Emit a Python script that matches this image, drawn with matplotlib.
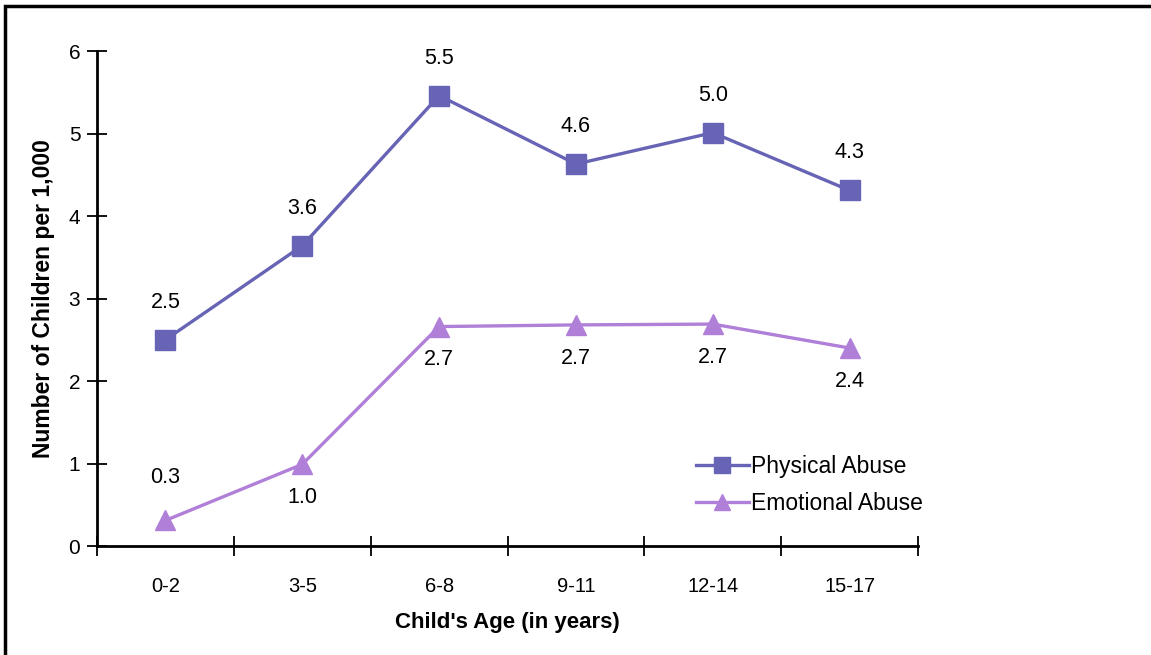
import numpy as np
import matplotlib.pyplot as plt
from matplotlib.patches import Rectangle
from matplotlib.ticker import FixedLocator

plt.rcParams['font.family'] = ['Liberation Sans', 'DejaVu Sans']

# Data
ages = ['0-2', '3-5', '6-8', '9-11', '12-14', '15-17']
physical = [2.5, 3.64, 5.46, 4.63, 5.01, 4.31]
emotional = [0.31, 0.99, 2.66, 2.68, 2.69, 2.40]
physical_lbl = ['2.5', '3.6', '5.5', '4.6', '5.0', '4.3']
emotional_lbl = ['0.3', '1.0', '2.7', '2.7', '2.7', '2.4']

PHYS_COL = '#6763b5'
EMO_COL = '#b07fd8'

fig = plt.figure(figsize=(11.51, 6.55), dpi=100)
ax = fig.add_axes([0.0843, 0.1664, 0.7133, 0.7557])

x = np.arange(len(ages))
ax.plot(x, physical, color=PHYS_COL, lw=2.4, marker='s', ms=15,
        label='Physical Abuse')
ax.plot(x, emotional, color=EMO_COL, lw=2.4, marker='^', ms=15,
        label='Emotional Abuse')

# value labels
for i in range(len(x)):
    ax.annotate(physical_lbl[i], (x[i], physical[i]), xytext=(0, 27),
                textcoords='offset points', ha='center', va='center', fontsize=15.5)
    off = 31 if i == 0 else -24
    ax.annotate(emotional_lbl[i], (x[i], emotional[i]), xytext=(0, off),
                textcoords='offset points', ha='center', va='center', fontsize=15.5)

ax.set_xlim(-0.5, 5.5)
ax.set_ylim(0, 6)
ax.set_yticks(range(7))
ax.xaxis.set_major_locator(FixedLocator(x))
ax.set_xticklabels(ages)
ax.xaxis.set_minor_locator(FixedLocator(np.arange(-0.5, 6, 1)))
ax.tick_params(axis='x', which='major', length=0, pad=22, labelsize=14.5)
ax.tick_params(axis='x', which='minor', direction='inout', length=14, width=1.3)
ax.tick_params(axis='y', direction='inout', length=14, width=1.3, labelsize=15, pad=5)

for s in ['top', 'right']:
    ax.spines[s].set_visible(False)
for s in ['left', 'bottom']:
    ax.spines[s].set_linewidth(2)

ax.set_xlabel("Child's Age (in years)", fontsize=16, fontweight='bold', labelpad=12)
ax.set_ylabel('Number of Children per 1,000', fontsize=16.5, fontweight='bold', labelpad=10)

ax.legend(loc='lower left', bbox_to_anchor=(0.71, 0.03), frameon=False,
          fontsize=16.5, handlelength=2.3, handletextpad=0.1, labelspacing=0.6,
          markerscale=0.8, borderpad=0.2)

# figure border (image is cropped on the right and bottom)
fig.patches.append(Rectangle((0.0045, -0.05), 1.2, 1.0415, transform=fig.transFigure,
                             fill=False, edgecolor='black', lw=2.5))

fig.savefig('out.png', dpi=100)
